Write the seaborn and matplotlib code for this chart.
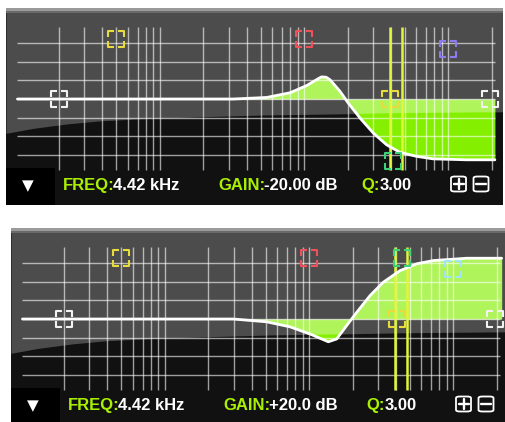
import numpy as np
import pandas as pd
import seaborn as sns
import matplotlib.pyplot as plt
from matplotlib.path import Path
from matplotlib.patches import FancyBboxPatch

# frequency grid (Hz) and gain grid (dB)
grid_freqs = [20, 30, 40, 50, 60, 70, 80, 90, 100, 200, 300, 400, 500, 600, 700, 800, 900,
              1000, 2000, 3000, 4000, 5000, 6000, 7000, 8000, 9000, 10000, 20000]
grid_gains = [-18, -12, -6, 0, 6, 12, 18]

# response curves
top_freq = [10.3, 323, 550, 798, 1040, 1250, 1321, 1420, 1510, 1770, 2023, 2440, 3014, 3732, 4614, 6026, 7852, 13380, 21000]
top_gain = [0, 0, 0.5, 2.0, 4.3, 6.5, 7.1, 7.0, 6.2, 2.5, -1.3, -6.1, -10.9, -14.7, -17.1, -18.4, -19.2, -19.5, -19.5]

bot_freq = [10.3, 298, 508, 736, 1013, 1358, 1552, 1820, 2134, 2642, 3266, 4263, 5560, 7250, 12360, 21600]
bot_gain = [0, 0, -0.9, -2.5, -4.8, -7.3, -6.4, -2.1, 2.1, 7.5, 11.8, 15.5, 17.7, 18.75, 19.5, 19.5]

# band handles
top_band_freq = [20, 50, 1000, 10000, 3935, 4130, 19300]
top_band_gain = [0, 19.2, 19.2, 16, 0, -20, 0]
bot_band_freq = [20, 50, 1000, 4420, 10000, 4040, 19300]
bot_band_gain = [0, 19.5, 19.5, 19.5, 16, 0, 0]
top_band_colors = ['#f2f2f2', '#e8dc3c', '#f0505a', '#8c7cf0', '#e8dc3c', '#3cd27a', '#f2f2f2']
bot_band_colors = ['#f2f2f2', '#e8dc3c', '#f0505a', '#3cd27a', '#9ee6f5', '#e8dc3c', '#f2f2f2']

# selected band width lines
top_sel = [3935, 4764]
bot_sel = [3935, 4764]

top_text = ['FREQ:', '4.42 kHz', 'GAIN:', '-20.00 dB', 'Q:', '3.00']
bot_text = ['FREQ:', '4.42 kHz', 'GAIN:', '+20.0 dB', 'Q:', '3.00']

# gloss boundary of the panel background
gloss_f = [8.58, 13.3, 22.6, 38.5, 85.6, 190, 550, 1580, 4600, 23900]
gloss_g = [-11.0, -9.4, -8.0, -7.0, -6.2, -5.7, -5.1, -4.8, -4.4, -4.1]

XLIM = (8.58, 23900)
YLIM = (-34.0, 29.2)

a = 0.72
verts, codes = [], []
for sx in (-1, 1):
    for sy in (-1, 1):
        verts += [(sx, sy * (1 - a)), (sx, sy), (sx * (1 - a), sy)]
        codes += [Path.MOVETO, Path.LINETO, Path.LINETO]
bracket = Path(verts, codes)

sns.set_style('white')
plt.rcParams['font.family'] = ['Liberation Sans', 'DejaVu Sans']

fig = plt.figure(figsize=(5.05, 4.22), dpi=100, facecolor='white')
W, H = 505, 422


def panel(rect, freq, gain, bfreq, bgain, bcolors, sel, texts):
    x0, y0, x1, y1 = rect
    pw, ph = x1 - x0, y1 - y0
    ax = fig.add_axes([x0 / W, 1 - y1 / H, pw / W, ph / H])
    ax.set_facecolor('#111111')
    ax.set_xscale('log')
    ax.set_xlim(*XLIM)
    ax.set_ylim(*YLIM)
    ax.axis('off')
    ax.add_patch(plt.Rectangle((XLIM[0], YLIM[0]), XLIM[1] - XLIM[0], YLIM[1] - YLIM[0],
                               color='#111111', zorder=0))

    ax.fill_between(freq, gain, 0, color='#84f000', lw=0, zorder=1)
    # glossy upper area
    gloss = ax.fill_between(gloss_f, gloss_g, YLIM[1], color='white', alpha=0.25, lw=0, zorder=2)
    shine = ax.fill_between(freq, gain, 0, color='white', alpha=0.14, lw=0, zorder=2)
    shine.set_clip_path(gloss.get_paths()[0], ax.transData)
    ax.axhspan(28.3, 29.2, color='#9a9a9a', lw=0, zorder=2)
    ax.axhspan(27.6, 28.3, color='#6a6a6a', lw=0, zorder=2)

    ax.vlines(grid_freqs, -22.8, 23.1, color='white', alpha=0.6, lw=1.0, zorder=3)
    ax.hlines(grid_gains, 10.25, 21000, color='white', alpha=0.6, lw=1.0, zorder=3)
    ax.vlines(sel, -22.8, 23.1, color='#e2f53a', lw=1.8, zorder=4)

    sns.lineplot(x=freq, y=gain, ax=ax, color='white', lw=2.0, zorder=5)

    for f, g, c in zip(bfreq, bgain, bcolors):
        ax.plot([f], [g], ls='', marker=bracket, ms=11.5, mfc='none', mec=c, mew=1.5, zorder=6)

    ax.add_patch(plt.Rectangle((XLIM[0], YLIM[0]), 18.8 - XLIM[0], -22.2 - YLIM[0],
                               color='black', lw=0, zorder=7))
    ax.text(12.2, -27.9, '\u25bc', color='white', fontsize=11, ha='center', va='center',
            family='DejaVu Sans', zorder=8)
    green = '#a8f000'
    pos = [21.3, 47.4, 253, 526, 2512, 3340]
    cols = [green, 'white', green, 'white', green, 'white']
    for t, p, c in zip(texts, pos, cols):
        ax.text(p, -27.9, t, color=c, fontsize=12, fontweight='bold', ha='left', va='center', zorder=8)

    # +/- buttons, placed in panel pixels
    for cx, sign in [(452.5, '+'), (475, '-')]:
        bx, by = cx / pw, 1 - 176 / ph
        bw, bh = 15 / pw, 15 / ph
        ax.add_patch(FancyBboxPatch((bx - bw / 2, by - bh / 2), bw, bh,
                                    boxstyle='round,pad=0,rounding_size=0.008',
                                    transform=ax.transAxes, fill=False, ec='white', lw=1.3, zorder=8))
        hx, hy = 5 / pw, 5 / ph
        ax.plot([bx - hx, bx + hx], [by, by], color='white', lw=1.7, transform=ax.transAxes, zorder=8)
        if sign == '+':
            ax.plot([bx, bx], [by - hy, by + hy], color='white', lw=1.7, transform=ax.transAxes, zorder=8)
    return ax


panel((6, 8, 503, 205), top_freq, top_gain, top_band_freq, top_band_gain, top_band_colors, top_sel, top_text)
panel((11, 228, 508, 425), bot_freq, bot_gain, bot_band_freq, bot_band_gain, bot_band_colors, bot_sel, bot_text)

fig.savefig('out.png', dpi=100, facecolor='white')
